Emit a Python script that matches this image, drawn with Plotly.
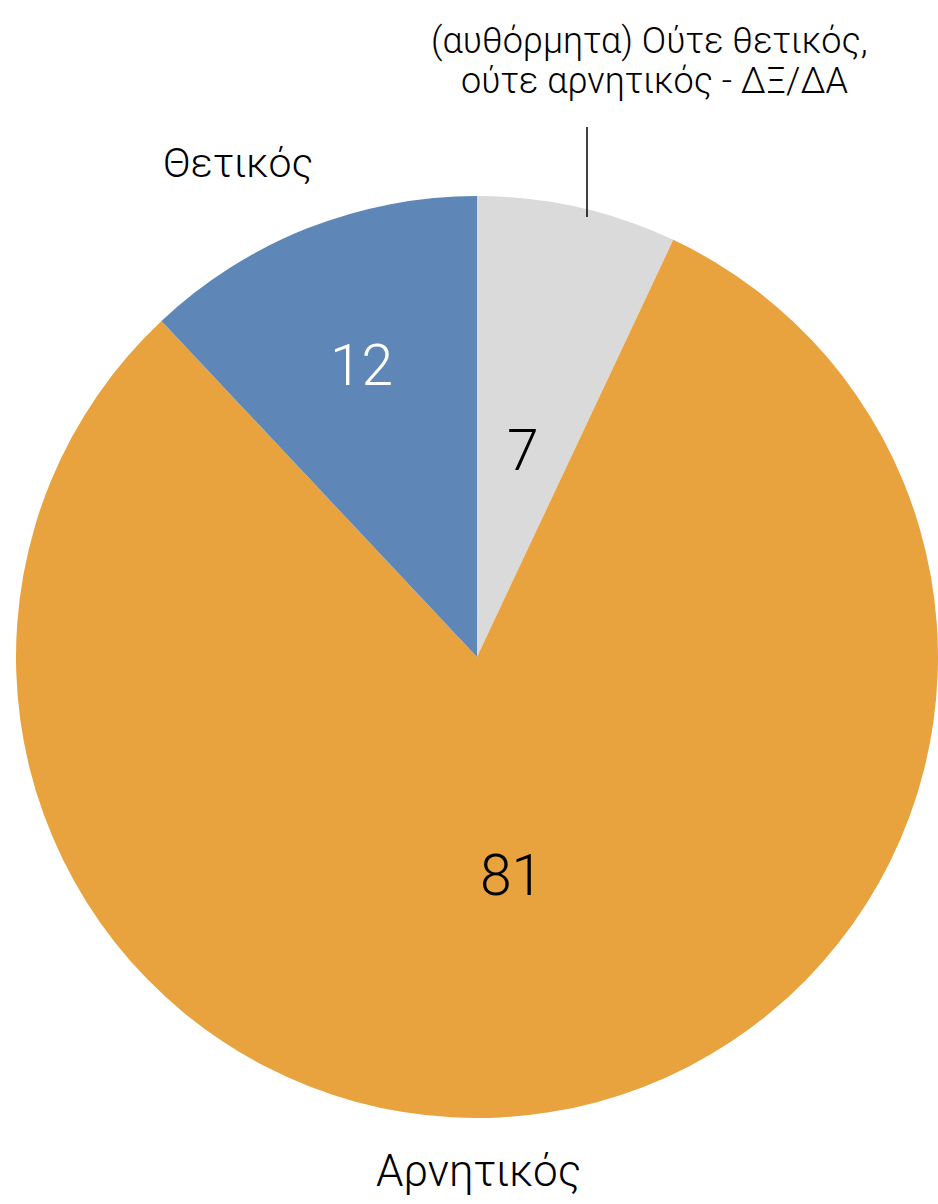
import math
import plotly.graph_objects as go

labels = ["(αυθόρμητα) Ούτε θετικός, ούτε αρνητικός - ΔΞ/ΔΑ", "Αρνητικός", "Θετικός"]
values = [7, 81, 12]
colors = ["#DADADA", "#E8A33E", "#5E87B8"]
text_colors = ["#000000", "#000000", "#FFFFFF"]
label_radius = [0.46, 0.48, 0.68]   # radial position of value labels (fraction of radius)

W, H = 938, 1204
L, R, T, B = 16, 0, 194, 84
PW, PH = W - L - R, H - T - B

def px(x):
    return (x - L) / PW

def py(y):
    return (H - B - y) / PH

FONT = "Roboto"

fig = go.Figure(go.Pie(
    labels=labels,
    values=values,
    sort=False,
    direction="clockwise",
    rotation=0,
    marker=dict(colors=colors, line=dict(width=0)),
    textinfo="none",
    showlegend=False,
    hoverinfo="label+value",
))

ann_font = dict(family=FONT, color="#000000", weight=300)
annotations = [
    dict(text=labels[2], x=px(238), y=py(163), font=dict(size=41, **ann_font)),
    dict(text=labels[1], x=px(478), y=py(1171), font=dict(size=44, **ann_font)),
    dict(text="(αυθόρμητα) Ούτε θετικός,", x=px(649), y=py(41), font=dict(size=36, **ann_font)),
    dict(text="ούτε αρνητικός - ΔΞ/ΔΑ", x=px(654), y=py(81), font=dict(size=36, **ann_font)),
]

# value labels placed along each slice's mid-angle
rad = min(PW, PH) / 2
total = sum(values)
cum = 0
for v, c, f in zip(values, text_colors, label_radius):
    mid = (cum + v / 2) / total * 2 * math.pi
    cum += v
    annotations.append(dict(
        text=str(v),
        x=0.5 + f * rad * math.sin(mid) / PW,
        y=0.5 + f * rad * math.cos(mid) / PH,
        font=dict(family=FONT, size=57, color=c, weight=300),
    ))

for a in annotations:
    a.update(xref="paper", yref="paper", showarrow=False, xanchor="center", yanchor="middle")

fig.update_layout(
    width=W, height=H,
    margin=dict(l=L, r=R, t=T, b=B),
    paper_bgcolor="#FFFFFF",
    plot_bgcolor="#FFFFFF",
    annotations=annotations,
    shapes=[dict(type="line", xref="paper", yref="paper",
                 x0=px(587), x1=px(587), y0=py(127), y1=py(217),
                 line=dict(color="#000000", width=1.5))],
)

fig.write_html(
    "out.html",
    config={"displayModeBar": False},
    post_script="document.body.style.margin='0';document.body.style.overflow='hidden';",
)
